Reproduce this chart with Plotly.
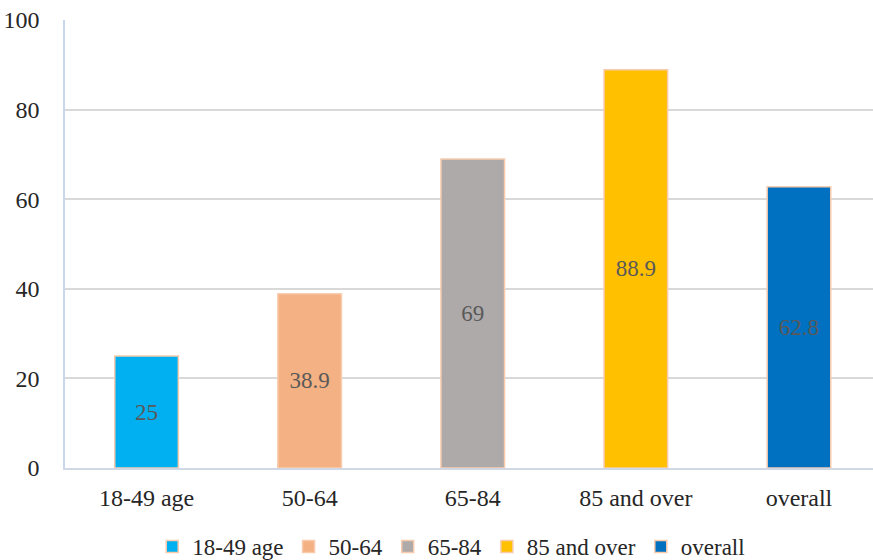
import plotly.graph_objects as go

categories = ["18-49 age", "50-64", "65-84", "85 and over", "overall"]
values = [25, 38.9, 69, 88.9, 62.8]
colors = ["#00B0F0", "#F4B183", "#AEAAAA", "#FFC000", "#0070C0"]
y_ticks = [0, 20, 40, 60, 80, 100]

FONT = "Liberation Serif"

fig = go.Figure()
for cat, val, col in zip(categories, values, colors):
    fig.add_trace(go.Bar(
        x=[cat], y=[val], name=cat,
        marker=dict(color=col, line=dict(color="#F8CBAD", width=1.5)),
        width=0.39,
        text=[f"{val:g}"], textposition="inside", insidetextanchor="middle",
        textfont=dict(family=FONT, size=23, color="#595959"),
        textangle=0,
    ))

fig.update_layout(
    width=873, height=560,
    margin=dict(l=65, r=0, t=20, b=92, autoexpand=False),
    paper_bgcolor="white", plot_bgcolor="white",
    barmode="overlay",
    font=dict(family=FONT, size=24, color="#262626"),
    legend=dict(orientation="h", x=0.478, xanchor="center",
                yref="container", y=0.024, yanchor="middle",
                font=dict(family=FONT, size=23, color="#262626"),
                itemwidth=30, tracegroupgap=0),
    xaxis=dict(range=[-0.5, 4.454], showgrid=False, showline=True,
               linecolor="#D0D7E5", linewidth=2, ticks="",
               ticklabelstandoff=7,
               tickfont=dict(family=FONT, size=24, color="#262626")),
    yaxis=dict(range=[0, 100], tickvals=y_ticks, showgrid=True,
               gridcolor="#D9D9D9", gridwidth=1.5, showline=True,
               linecolor="#C9D6EE", linewidth=1.5, zeroline=False, ticks="",
               ticklabelstandoff=19,
               tickfont=dict(family=FONT, size=24, color="#262626")),
)

fig.write_html("out.html")
